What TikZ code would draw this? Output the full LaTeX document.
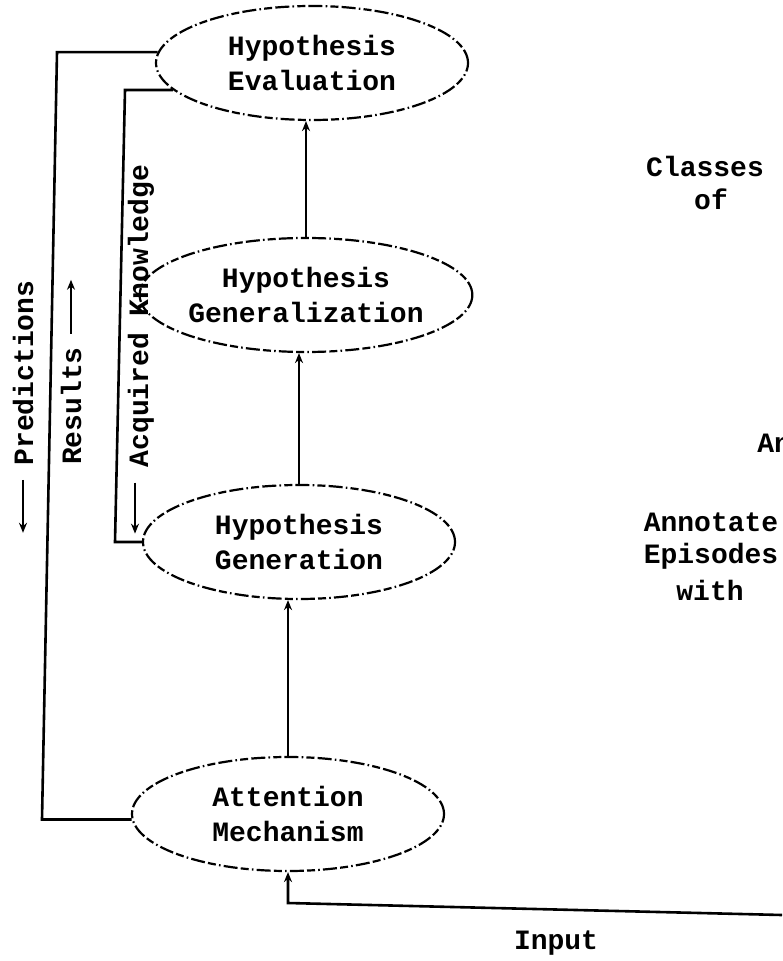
\documentclass[tikz,border=0pt]{standalone}
\usepackage{fontspec}
\setmainfont{Liberation Mono}
\usetikzlibrary{shapes.geometric,arrows.meta}
\begin{document}
\begin{tikzpicture}[x=0.5pt,y=-0.5pt,
  every node/.style={font=\bfseries\fontsize{14}{17.5}\selectfont},
  proc/.style={ellipse, draw, line width=1.1pt,
    dash pattern=on 7pt off 1.6pt on 4pt off 1.6pt on 0.8pt off 1.6pt,
    minimum width=156pt, minimum height=57pt, inner sep=0pt, align=center},
  conn/.style={line width=1.3pt},
  arr/.style={conn, -{Stealth[length=5pt,width=4pt]}},
  lbl/.style={rotate=90, inner sep=0pt},
  side/.style={inner sep=0pt}
]
\useasboundingbox (0,0) rectangle (782,961);

\node[proc] (eval) at (312,63) {Hypothesis\\Evaluation};
\node[proc] (gen)  at (306,295) {Hypothesis\\Generalization};
\node[proc] (hgen) at (299,542) {Hypothesis\\Generation};
\node[proc] (att)  at (288,814) {Attention\\Mechanism};

\draw[arr] (gen.north) -- (gen.north |- eval.south);
\draw[arr] (hgen.north) -- (hgen.north |- gen.south);
\draw[arr] (att.north) -- (att.north |- hgen.south);

\coordinate (inR) at (782,915);
\coordinate (inC) at (288,903);
\draw[arr] (inR) -- (inC) -- (att.south);
\node (inp) at (556,943) {Input};

\coordinate (pTop) at (57,0);
\coordinate (pBot) at (42,0);
\draw[conn] (eval.176) -- (eval.176 -| pTop) -- (pBot |- att.182) -- (att.182);

\coordinate (kTop) at (125,0);
\coordinate (kBot) at (115,0);
\draw[conn] (eval.191) -- (eval.191 -| kTop) -- (kBot |- hgen.west) -- (hgen.west);

\node[lbl] (pred) at (23,373) {Predictions};
\draw[arr] (pred.west) ++(0,14) -- ++(0,53);
\node[lbl] (res) at (71,406) {Results};
\draw[arr] (res.east) ++(0,-13) -- ++(0,-54);
\node[lbl] (acq) at (141,316) {Acquired Knowledge};
\draw[arr] (acq.west) ++(-6,15) -- ++(0,51);

\node[side] (cls) at (705,166) {Classes};
\node[side] (of) at (711,199) {of};
\node[side, anchor=west] (an) at (757,443) {An};
\node[side] (ann) at (711,522) {Annotate};
\node[side] (epi) at (711,556) {Episodes};
\node[side] (wth) at (710,590) {with};
\end{tikzpicture}
\end{document}
